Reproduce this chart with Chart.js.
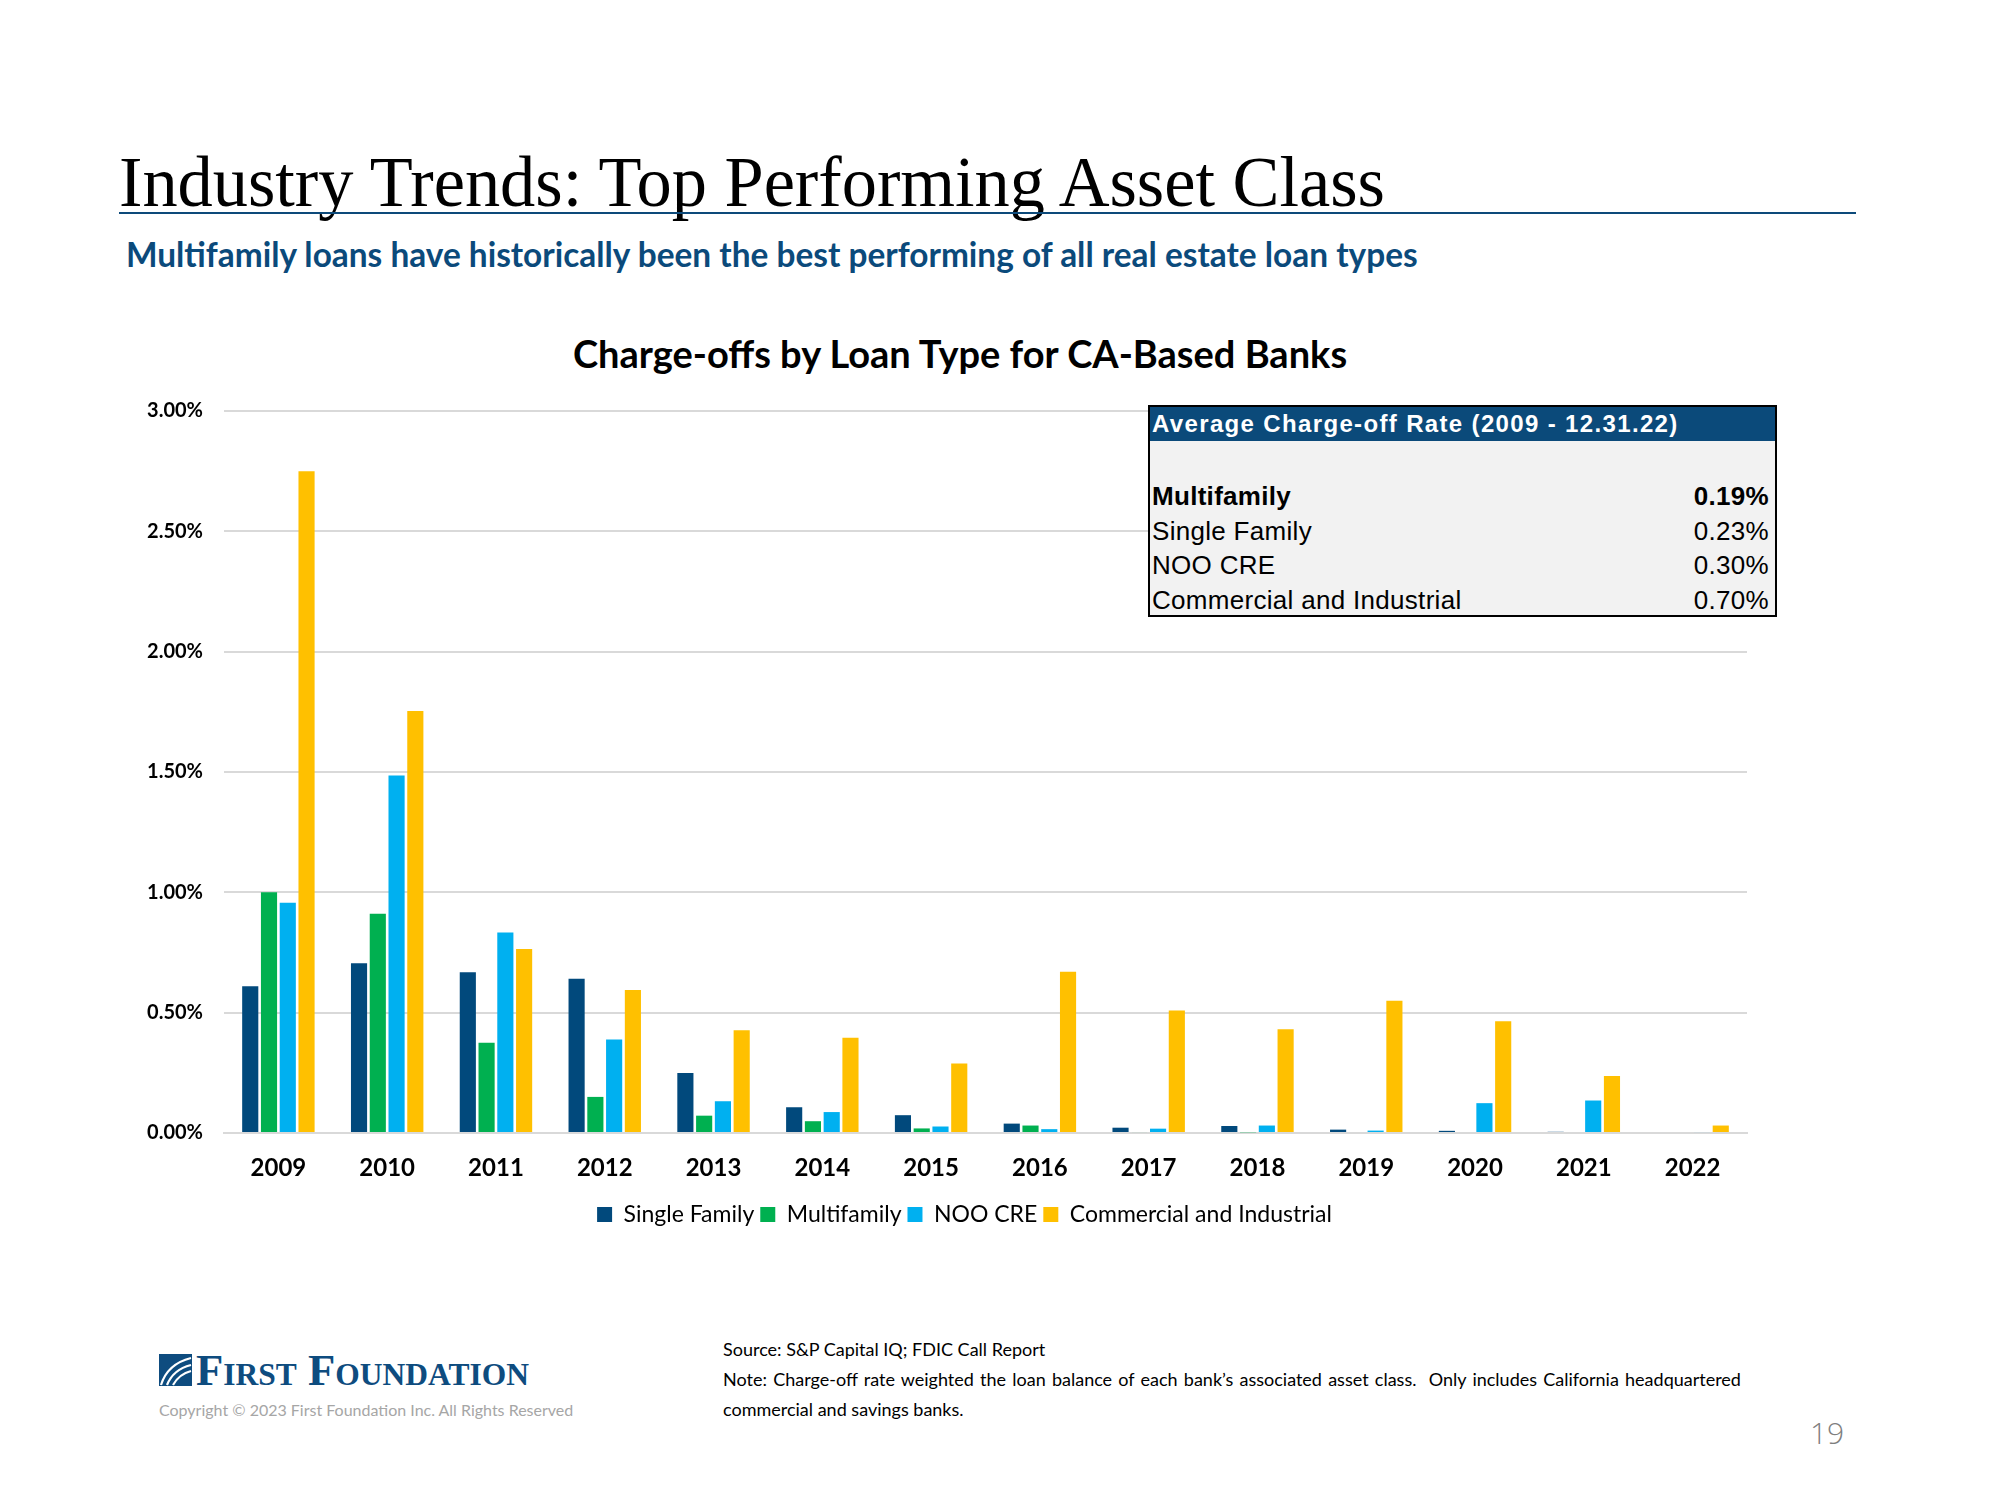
<!DOCTYPE html>
<html>
<head>
<meta charset="utf-8">
<script src="https://cdn.jsdelivr.net/npm/chart.js@4.4.1/dist/chart.umd.min.js"></script>
<style>
  html, body { margin:0; padding:0; background:#ffffff; }
  body { width:2000px; height:1500px; position:relative; overflow:hidden; font-family:Lato, "Open Sans", sans-serif; }
  .abs { position:absolute; white-space:nowrap; }
  #title { left:119px; top:146px; font-family:"Liberation Serif", serif; font-size:72px; color:#000; line-height:1; transform-origin:left top; }
  #rule { left:119px; top:212px; width:1737px; height:2px; background:#0d4a7a; }
  #subtitle { left:126px; top:234px; font-family:Lato, sans-serif; font-weight:700; font-size:33.4px; color:#0b4a7b; line-height:1.2; }
  #ctitle { left:0; width:1920px; top:330px; text-align:center; font-family:Lato, sans-serif; font-weight:700; font-size:38px; color:#000; }
  #chartbox { left:100px; top:378px; width:1670px; height:858px; }
  #avg { left:1148px; top:405px; width:625px; height:208px; background:#f2f2f2; border:2px solid #000; font-family:"Liberation Sans", Arial, sans-serif; color:#000; }
  #avg .hdr { background:#0b4a7a; color:#fff; font-weight:700; font-size:24px; letter-spacing:1.35px; height:34px; line-height:34px; padding-left:2px; }
  #avg .row { position:absolute; left:2px; right:6px; font-size:26px; letter-spacing:0.3px; height:30px; line-height:30px; }
  #avg .row span.v { position:absolute; right:0; }
  #avg .row.b { font-weight:700; }
  #logo { left:159px; top:1354px; }
  #logotext { left:196px; top:1349px; font-family:"Liberation Serif", serif; font-weight:700; font-variant:small-caps; font-size:44px; color:#0e4c7f; letter-spacing:0px; line-height:1; transform-origin:left top; }
  #copy { left:159px; top:1400px; font-size:16px; color:#a6a6a6; }
  #notes { left:723px; top:1334px; font-size:18px; color:#000; line-height:30px; white-space:normal; width:1150px; }
  #notes .n { word-spacing:1.6px; }
  #page { left:1810px; top:1412px; font-size:30px; color:#7f7f7f; font-family:"Open Sans", sans-serif; font-weight:300; }
</style>
</head>
<body>
<div class="abs" id="title"><span id="titlespan">Industry Trends: Top Performing Asset Class</span></div>
<div class="abs" id="rule"></div>
<div class="abs" id="subtitle">Multifamily loans have historically been the best performing of all real estate loan types</div>
<div class="abs" id="ctitle">Charge-offs by Loan Type for CA-Based Banks</div>
<div class="abs" id="chartbox"><canvas id="c"></canvas></div>
<div class="abs" id="avg"></div>
<div class="abs" id="logo">
  <svg width="33" height="32" viewBox="0 0 33 32">
    <rect x="0" y="0" width="33" height="32" fill="#0e4c7f"/>
    <path d="M2 31 C 6 18, 16 8, 32 4" stroke="#fff" stroke-width="2.2" fill="none"/>
    <path d="M8 31 C 12 21, 20 14, 32 11" stroke="#fff" stroke-width="2.2" fill="none"/>
    <path d="M14 31 C 18 24, 24 19, 32 17" stroke="#fff" stroke-width="2.2" fill="none"/>
  </svg>
</div>
<div class="abs" id="logotext">First Foundation</div>
<div class="abs" id="copy">Copyright © 2023 First Foundation Inc. All Rights Reserved</div>
<div class="abs" id="notes">Source: S&amp;P Capital IQ; FDIC Call Report<br><span class="n">Note: Charge-off rate weighted the loan balance of each bank’s associated asset class.&nbsp; Only includes California headquartered</span><br>commercial and savings banks.</div>
<div class="abs" id="page">19</div>

<script>
// ---- Data ----
const years = ['2009','2010','2011','2012','2013','2014','2015','2016','2017','2018','2019','2020','2021','2022'];
const singleFamily = [0.61, 0.705, 0.668, 0.641, 0.249, 0.107, 0.074, 0.039, 0.022, 0.029, 0.014, 0.009, 0.005, 0.0];
const multifamily  = [1.00, 0.911, 0.375, 0.150, 0.072, 0.049, 0.019, 0.031, 0.004, 0.003, 0.0, 0.0, 0.0, 0.0];
const nooCre       = [0.957, 1.485, 0.833, 0.388, 0.132, 0.087, 0.027, 0.016, 0.018, 0.031, 0.010, 0.124, 0.135, 0.004];
const commInd      = [2.75, 1.753, 0.765, 0.594, 0.427, 0.396, 0.289, 0.670, 0.509, 0.431, 0.550, 0.464, 0.237, 0.031];
const seriesNames  = ['Single Family', 'Multifamily', 'NOO CRE', 'Commercial and Industrial'];
const yTicks       = [0, 0.5, 1.0, 1.5, 2.0, 2.5, 3.0];

const avgTitle  = 'Average Charge-off Rate (2009 - 12.31.22)';
const avgLabels = ['Multifamily', 'Single Family', 'NOO CRE', 'Commercial and Industrial'];
const avgValues = ['0.19%', '0.23%', '0.30%', '0.70%'];

// ---- Summary table ----
(function(){
  const box = document.getElementById('avg');
  let html = '<div class="hdr">' + avgTitle + '</div>';
  const tops = [74, 109, 143, 178];
  avgLabels.forEach((l, i) => {
    html += '<div class="row' + (i === 0 ? ' b' : '') + '" style="top:' + tops[i] + 'px">' + l + '<span class="v">' + avgValues[i] + '</span></div>';
  });
  box.innerHTML = html;
})();

// fit title / logo width
(function(){
  const s = document.getElementById('titlespan');
  const w = s.getBoundingClientRect().width;
  document.getElementById('title').style.transform = 'scaleX(' + (1266 / w) + ')';
  const lt = document.getElementById('logotext');
  const lw = lt.getBoundingClientRect().width;
  lt.style.transform = 'scaleX(' + (333 / lw) + ')';
})();

// ---- Chart ----
const colors = ['#01497c', '#00b050', '#00b0f0', '#ffc000'];
const seriesData = [singleFamily, multifamily, nooCre, commInd];

const legendShift = {
  id: 'legendShift',
  afterLayout(chart) {
    const lg = chart.legend;
    if (lg) { lg.left += 41; lg.right += 41; }
  }
};

new Chart(document.getElementById('c'), {
  type: 'bar',
  data: {
    labels: years,
    datasets: seriesNames.map((n, i) => ({
      label: n,
      data: seriesData[i],
      backgroundColor: colors[i],
      borderWidth: 0,
      barPercentage: 0.86,
      categoryPercentage: 0.69
    }))
  },
  plugins: [legendShift],
  options: {
    responsive: true,
    maintainAspectRatio: false,
    animation: false,
    layout: { padding: { left: 0, right: 23, top: 7, bottom: 0 } },
    plugins: {
      tooltip: { enabled: false },
      title: { display: false },
      legend: {
        position: 'bottom',
        labels: {
          boxWidth: 15, boxHeight: 15, padding: 6,
          color: '#000',
          font: { family: 'Lato', size: 23 }
        }
      }
    },
    scales: {
      x: {
        afterFit: s => { s.height = 64; },
        grid: { display: false, drawTicks: false },
        border: { display: true, color: '#d9d9d9', width: 2 },
        ticks: { color: '#000', padding: 21, font: { family: 'Lato', size: 24, weight: 'bold' } }
      },
      y: {
        min: 0, max: 3,
        afterFit: s => { s.width = 124; },
        afterBuildTicks: s => { s.ticks = yTicks.map(v => ({ value: v })); },
        grid: { color: '#d9d9d9', lineWidth: 2, drawTicks: false },
        border: { display: false },
        ticks: {
          color: '#000', padding: 21,
          font: { family: 'Lato', size: 20, weight: 'bold' },
          callback: v => Number(v).toFixed(2) + '%'
        }
      }
    }
  }
});
</script>
</body>
</html>
